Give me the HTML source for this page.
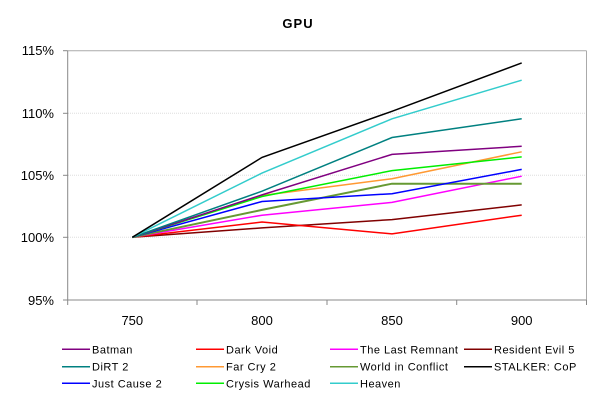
<!DOCTYPE html>
<html><head><meta charset="utf-8"><style>
html,body{margin:0;padding:0;background:#fff;}
svg{display:block;font-family:"Liberation Sans",Arial,sans-serif;}
</style></head><body>
<svg width="600" height="400" viewBox="0 0 600 400">
<text x="298" y="28" font-size="13" font-weight="bold" text-anchor="middle" fill="#000" letter-spacing="1">GPU</text>
<g stroke="#ddd" stroke-width="1" stroke-dasharray="1,1">
<line x1="68" y1="113.3" x2="586" y2="113.3"/>
<line x1="68" y1="175.3" x2="586" y2="175.3"/>
<line x1="68" y1="237.3" x2="586" y2="237.3"/>
</g>
<g stroke="#888" stroke-width="1" fill="none">
<line x1="67.7" y1="50.7" x2="586.5" y2="50.7" stroke="#aaa"/>
<line x1="586.5" y1="50.7" x2="586.5" y2="300" stroke="#aaa"/>
<line x1="67.7" y1="50.7" x2="67.7" y2="300"/>
<line x1="67.7" y1="300" x2="586.5" y2="300"/>
<line x1="63" y1="50.7" x2="67.7" y2="50.7"/>
<line x1="63" y1="113.3" x2="67.7" y2="113.3"/>
<line x1="63" y1="175.3" x2="67.7" y2="175.3"/>
<line x1="63" y1="237.3" x2="67.7" y2="237.3"/>
<line x1="63" y1="300" x2="67.7" y2="300"/>
<line x1="67.7" y1="300" x2="67.7" y2="305"/>
<line x1="197" y1="300" x2="197" y2="305"/>
<line x1="327" y1="300" x2="327" y2="305"/>
<line x1="456.7" y1="300" x2="456.7" y2="305"/>
<line x1="586.5" y1="300" x2="586.5" y2="305"/>
</g>
<g font-size="13" fill="#000" text-anchor="end">
<text x="54" y="55">115%</text>
<text x="54" y="118">110%</text>
<text x="54" y="180">105%</text>
<text x="54" y="242">100%</text>
<text x="54" y="305">95%</text>
</g>
<g font-size="13" fill="#000" text-anchor="middle">
<text x="132.3" y="325">750</text>
<text x="262" y="325">800</text>
<text x="392" y="325">850</text>
<text x="521.7" y="325">900</text>
</g>
<g fill="none" stroke-width="1.5">
<polyline stroke="#800000" points="132.3,237.3 262,227.9 392,219.6 521.7,204.9"/>
<polyline stroke="#ff0000" points="132.3,237.3 262,222 392,233.9 521.7,215.2"/>
<polyline stroke="#ff00ff" points="132.3,237.3 262,215.2 392,202.4 521.7,176.2"/>
<polyline stroke="#669933" stroke-width="2" points="132.3,237.3 262,209.9 392,183.7 521.7,183.7"/>
<polyline stroke="#0000ff" points="132.3,237.3 262,201.5 392,193.7 521.7,169.4"/>
<polyline stroke="#ff9933" points="132.3,237.3 262,195.5 392,178.7 521.7,151.8"/>
<polyline stroke="#00ee00" points="132.3,237.3 262,196.5 392,170.6 521.7,156.9"/>
<polyline stroke="#800080" points="132.3,237.3 262,194.9 392,154.4 521.7,146.3"/>
<polyline stroke="#008080" points="132.3,237.3 262,191.2 392,137.5 521.7,118.8"/>
<polyline stroke="#33cccc" points="132.3,237.3 262,173.1 392,118.8 521.7,80.2"/>
<polyline stroke="#000000" points="132.3,237.3 262,157.4 392,111.3 521.7,62.9"/>
</g>
<g stroke-width="1.5">
<line x1="62" y1="349.3" x2="90" y2="349.3" stroke="#800080"/>
<line x1="62" y1="366.7" x2="90" y2="366.7" stroke="#008080"/>
<line x1="62" y1="383.3" x2="90" y2="383.3" stroke="#0000ff"/>
<line x1="196" y1="349.3" x2="224" y2="349.3" stroke="#ff0000"/>
<line x1="196" y1="366.7" x2="224" y2="366.7" stroke="#ff9933"/>
<line x1="196" y1="383.3" x2="224" y2="383.3" stroke="#00ee00"/>
<line x1="330" y1="349.3" x2="358" y2="349.3" stroke="#ff00ff"/>
<line x1="330" y1="366.7" x2="358" y2="366.7" stroke="#669933"/>
<line x1="330" y1="383.3" x2="358" y2="383.3" stroke="#33cccc"/>
<line x1="464" y1="349.3" x2="492" y2="349.3" stroke="#800000"/>
<line x1="464" y1="366.7" x2="492" y2="366.7" stroke="#000000"/>
</g>
<g font-size="11" fill="#000" letter-spacing="0.5">
<text x="92" y="353.3">Batman</text>
<text x="92" y="370.7">DiRT 2</text>
<text x="92" y="387.3">Just Cause 2</text>
<text x="226" y="353.3">Dark Void</text>
<text x="226" y="370.7">Far Cry 2</text>
<text x="226" y="387.3">Crysis Warhead</text>
<text x="360" y="353.3">The Last Remnant</text>
<text x="360" y="370.7">World in Conflict</text>
<text x="360" y="387.3">Heaven</text>
<text x="494" y="353.3">Resident Evil 5</text>
<text x="494" y="370.7">STALKER: CoP</text>
</g>
</svg>
</body></html>
